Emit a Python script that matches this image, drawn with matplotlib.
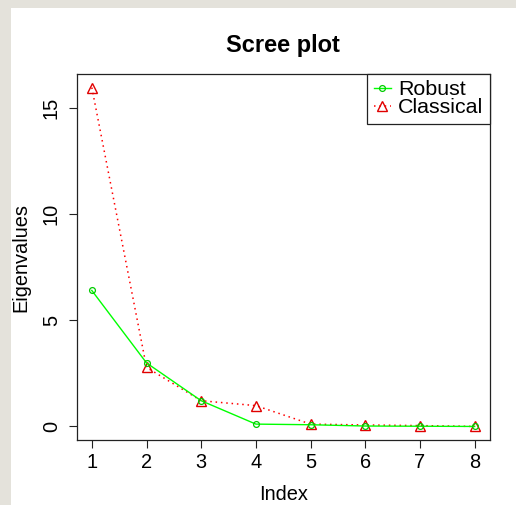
import matplotlib
matplotlib.use("Agg")
import matplotlib.pyplot as plt
from matplotlib.patches import Rectangle

plt.rcParams['font.family'] = ['Liberation Sans', 'DejaVu Sans']

index = [1, 2, 3, 4, 5, 6, 7, 8]
robust = [6.40, 2.99, 1.21, 0.11, 0.08, 0.02, 0.01, 0.00]
classical = [15.95, 2.78, 1.21, 0.98, 0.11, 0.07, 0.04, 0.00]
x_ticks = [1, 2, 3, 4, 5, 6, 7, 8]
y_ticks = [0, 5, 10, 15]

W, H = 516, 505
fig = plt.figure(figsize=(W / 100, H / 100), dpi=100)
fig.patch.set_facecolor('white')
gray = '#E4E2DB'
fig.patches.append(Rectangle((0, 1 - 8 / H), 1, 8 / H, transform=fig.transFigure,
                             facecolor=gray, edgecolor='none', zorder=0))
fig.patches.append(Rectangle((0, 0), 11 / W, 1, transform=fig.transFigure,
                             facecolor=gray, edgecolor='none', zorder=0))

left, right, top, bottom = 76.5, 490, 74, 440
ax = fig.add_axes([left / W, 1 - bottom / H, (right - left) / W, (bottom - top) / H])

ax.plot(index, robust, color='#00FF00', lw=1, ls='-', marker='o', ms=4.2,
        mfc='none', mec='#00CC00', mew=0.9, label='Robust', zorder=3)
ax.plot(index, classical, color='#FF0000', lw=1.1, ls=(0, (1, 2.5)), marker='^', ms=7,
        mfc='none', mec='#E00000', mew=1.0, label='Classical', zorder=2)

rng = max(classical) - 0
ax.set_xlim(1 - 0.28, 8 + 0.28)
ax.set_ylim(-0.04 * rng, max(classical) + 0.04 * rng)
ax.set_xticks(x_ticks)
ax.set_yticks(y_ticks)
ax.set_xticklabels([str(v) for v in x_ticks])
ax.set_yticklabels([str(v) for v in y_ticks])

for s in ax.spines.values():
    s.set_color('#222222')
    s.set_linewidth(0.9)
ax.tick_params(axis='both', length=5.8, width=0.8, color='#222222', labelsize=14.4)
ax.tick_params(axis='x', pad=3.7)
ax.tick_params(axis='y', pad=5.4, labelrotation=90)
for lab in ax.get_yticklabels():
    lab.set_va('center')

ax.set_xlabel('Index', fontsize=14.4, va='baseline')
ax.xaxis.set_label_coords(0.5, (bottom - 500) / (bottom - top))
ax.set_ylabel('Eigenvalues', fontsize=14.4, va='center', ha='center')
ax.yaxis.set_label_coords((21 - left) / (right - left), 0.5)

fig.text((left + right) / 2 / W, 1 - 52 / H, 'Scree plot', fontsize=17,
         fontweight='bold', ha='center', va='baseline')

leg = ax.legend(loc='upper right', bbox_to_anchor=(1, 1), borderaxespad=0,
                fancybox=False, edgecolor='#222222', framealpha=1,
                fontsize=15.4, handlelength=0.8, handletextpad=0.35,
                labelspacing=-0.05, borderpad=0.3)
leg.get_frame().set_linewidth(0.9)

fig.savefig('out.png', dpi=100)
